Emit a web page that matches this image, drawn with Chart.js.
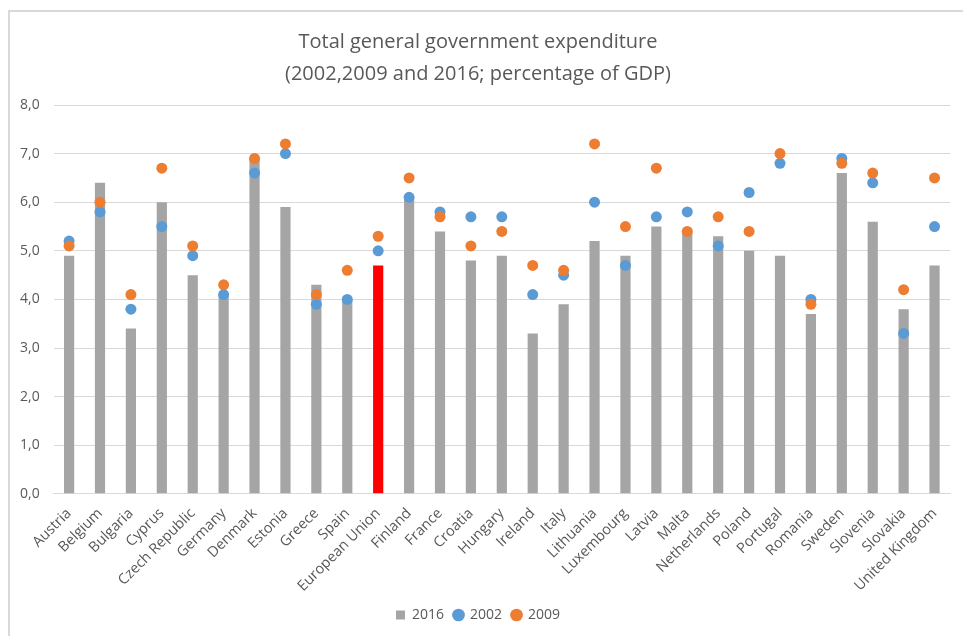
<!DOCTYPE html>
<html>
<head>
<meta charset="utf-8">
<script src="https://cdn.jsdelivr.net/npm/chart.js@4"></script>
<style>
  html, body { margin: 0; padding: 0; background: #fff; }
  #wrap { position: relative; width: 963px; height: 636px; }
  #frame { position: absolute; left: 8px; top: 10px; width: 1000px; height: 700px;
           border-top: 2px solid #D9D9D9; border-left: 2px solid #D9D9D9; }
  canvas { position: absolute; left: 0; top: 0; }
</style>
</head>
<body>
<div id="wrap">
  <div id="frame"></div>
  <canvas id="myChart" width="963" height="636"></canvas>
</div>
<script>
// categories
const countries = ["Austria", "Belgium", "Bulgaria", "Cyprus", "Czech Republic", "Germany", "Denmark",
  "Estonia", "Greece", "Spain", "European Union", "Finland", "France", "Croatia", "Hungary", "Ireland",
  "Italy", "Lithuania", "Luxembourg", "Latvia", "Malta", "Netherlands", "Poland", "Portugal", "Romania",
  "Sweden", "Slovenia", "Slovakia", "United Kingdom"];

// series values (% of GDP)
const y2016 = [4.9, 6.4, 3.4, 6.0, 4.5, 4.1, 6.9, 5.9, 4.3, 4.0, 4.7, 6.1, 5.4, 4.8, 4.9, 3.3,
  3.9, 5.2, 4.9, 5.5, 5.4, 5.3, 5.0, 4.9, 3.7, 6.6, 5.6, 3.8, 4.7];
const y2002 = [5.2, 5.8, 3.8, 5.5, 4.9, 4.1, 6.6, 7.0, 3.9, 4.0, 5.0, 6.1, 5.8, 5.7, 5.7, 4.1,
  4.5, 6.0, 4.7, 5.7, 5.8, 5.1, 6.2, 6.8, 4.0, 6.9, 6.4, 3.3, 5.5];
const y2009 = [5.1, 6.0, 4.1, 6.7, 5.1, 4.3, 6.9, 7.2, 4.1, 4.6, 5.3, 6.5, 5.7, 5.1, 5.4, 4.7,
  4.6, 7.2, 5.5, 6.7, 5.4, 5.7, 5.4, 7.0, 3.9, 6.8, 6.6, 4.2, 6.5];

const seriesNames = ["2016", "2002", "2009"];
const highlight = "European Union";

const grey = "#A5A5A5";
const blue = "#5B9BD5";
const orange = "#ED7D31";
const txt = "#595959";

// EU bar in red, rest grey
const barColors = countries.map(c => c === highlight ? "#FF0000" : grey);

const ctx = document.getElementById("myChart");

const chart = new Chart(ctx, {
  type: "bar",
  data: {
    labels: countries,
    datasets: [
      {
        label: seriesNames[0],
        data: y2016,
        backgroundColor: barColors,
        barPercentage: 0.33,
        categoryPercentage: 1,
        order: 2,
      },
      {
        type: "line",
        label: seriesNames[1],
        data: y2002,
        showLine: false,
        pointRadius: 5.5,
        pointHoverRadius: 5.5,
        pointBackgroundColor: blue,
        pointBorderWidth: 0,
        backgroundColor: blue,
        borderColor: blue,
        order: 1,
      },
      {
        type: "line",
        label: seriesNames[2],
        data: y2009,
        showLine: false,
        pointRadius: 5.5,
        pointHoverRadius: 5.5,
        pointBackgroundColor: orange,
        pointBorderWidth: 0,
        backgroundColor: orange,
        borderColor: orange,
        order: 0,
      },
    ],
  },
  options: {
    responsive: false,
    animation: false,
    layout: {
      padding: { left: 6, right: 13, top: 26, bottom: 4 },
    },
    plugins: {
      title: {
        display: true,
        text: ["Total general government expenditure", "(2002,2009 and 2016; percentage of GDP)"],
        color: txt,
        font: { family: "'Open Sans', sans-serif", size: 20, weight: "normal", lineHeight: 1.6 },
        padding: { top: 0, bottom: 15 },
      },
      legend: {
        display: true,
        position: "bottom",
        labels: {
          color: txt,
          font: { family: "'Open Sans', sans-serif", size: 14 },
          usePointStyle: true,
          boxWidth: 9,
          boxHeight: 9,
          padding: 10,
          generateLabels: function (c) {
            return c.data.datasets.map((ds, i) => ({
              text: ds.label,
              fillStyle: i === 0 ? grey : ds.backgroundColor,
              strokeStyle: i === 0 ? grey : ds.backgroundColor,
              lineWidth: 0,
              pointStyle: i === 0 ? "rect" : "circle",
              datasetIndex: i,
              fontColor: txt,
            }));
          },
        },
      },
      tooltip: { enabled: false },
    },
    scales: {
      x: {
        grid: { display: false },
        border: { color: "#D9D9D9", width: 1 },
        ticks: {
          color: txt,
          font: { family: "'Open Sans', sans-serif", size: 14.5 },
          minRotation: 45,
          maxRotation: 45,
          autoSkip: false,
          padding: 3,
        },
      },
      y: {
        min: 0,
        max: 8,
        grid: { color: "#D9D9D9", lineWidth: 1, drawTicks: false },
        border: { display: false },
        ticks: {
          stepSize: 1,
          color: txt,
          font: { family: "'Open Sans', sans-serif", size: 14 },
          padding: 14,
          callback: v => v.toFixed(1).replace(".", ","),
        },
      },
    },
  },
});
</script>
</body>
</html>
